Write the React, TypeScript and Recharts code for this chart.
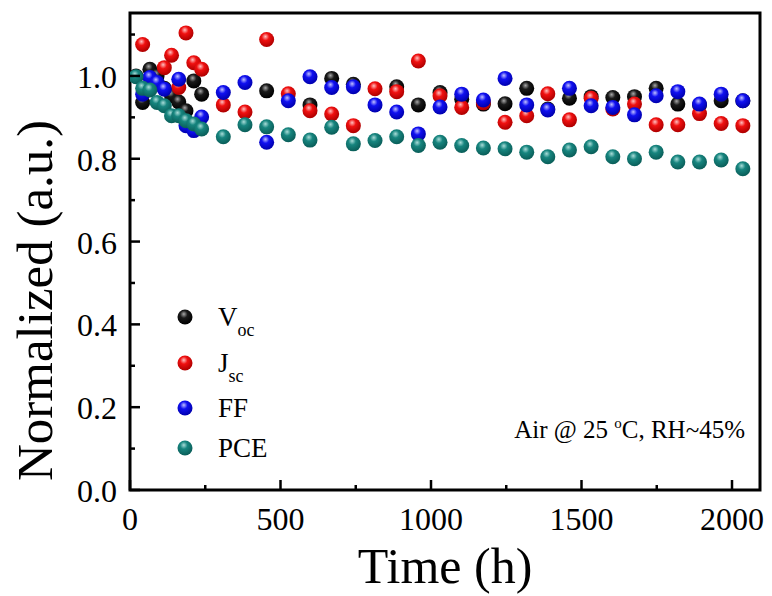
import React from 'react';
import { ScatterChart, Scatter, XAxis, YAxis, ReferenceArea, Legend, Label } from 'recharts';

// ---- data ----
const vocTimes = [20, 42, 66, 90, 114, 138, 162, 186, 212, 238, 454, 598, 670, 742, 886, 958, 1030, 1102, 1174, 1246, 1318, 1388, 1460, 1532, 1604, 1676, 1748, 1820, 1892, 1964, 2036];
const vocValues = [1.0, 0.936, 1.016, 1.0, 0.97, 0.952, 0.937, 0.916, 0.988, 0.956, 0.964, 0.93, 0.994, 0.98, 0.974, 0.93, 0.96, 0.944, 0.932, 0.933, 0.97, 0.92, 0.946, 0.95, 0.948, 0.95, 0.97, 0.932, 0.93, 0.94, 0.94];

const jscTimes = [42, 114, 138, 162, 186, 212, 238, 310, 382, 454, 526, 598, 670, 742, 814, 886, 958, 1030, 1102, 1174, 1246, 1318, 1388, 1460, 1532, 1604, 1676, 1748, 1820, 1892, 1964, 2036];
const jscValues = [1.076, 1.02, 1.05, 0.972, 1.104, 1.032, 1.016, 0.93, 0.913, 1.088, 0.957, 0.916, 0.908, 0.88, 0.969, 0.962, 1.036, 0.952, 0.924, 0.935, 0.888, 0.904, 0.957, 0.894, 0.946, 0.92, 0.932, 0.882, 0.882, 0.909, 0.885, 0.88];

const ffTimes = [42, 66, 90, 114, 162, 186, 212, 238, 310, 382, 454, 526, 598, 670, 742, 814, 886, 958, 1030, 1102, 1174, 1246, 1318, 1388, 1460, 1532, 1604, 1676, 1748, 1820, 1892, 1964, 2036];
const ffValues = [0.956, 0.996, 0.984, 0.968, 0.992, 0.88, 0.868, 0.901, 0.96, 0.984, 0.84, 0.94, 0.998, 0.972, 0.974, 0.93, 0.913, 0.86, 0.925, 0.956, 0.942, 0.994, 0.93, 0.918, 0.97, 0.928, 0.924, 0.906, 0.952, 0.962, 0.932, 0.956, 0.94];

const pceTimes = [20, 42, 66, 90, 114, 138, 162, 186, 212, 238, 310, 382, 454, 526, 598, 670, 742, 814, 886, 958, 1030, 1102, 1174, 1246, 1318, 1388, 1460, 1532, 1604, 1676, 1748, 1820, 1892, 1964, 2036];
const pceValues = [0.998, 0.97, 0.966, 0.936, 0.928, 0.904, 0.904, 0.892, 0.884, 0.872, 0.853, 0.882, 0.877, 0.858, 0.845, 0.876, 0.836, 0.844, 0.853, 0.832, 0.84, 0.832, 0.826, 0.824, 0.816, 0.805, 0.821, 0.829, 0.805, 0.8, 0.816, 0.792, 0.792, 0.797, 0.776];

const xTicks = [0, 250, 500, 750, 1000, 1250, 1500, 1750, 2000];
const xTickLabels = ['0', '', '500', '', '1000', '', '1500', '', '2000'];
const yTicks = [0, 0.1, 0.2, 0.3, 0.4, 0.5, 0.6, 0.7, 0.8, 0.9, 1.0, 1.1];
const yTickLabels = ['0.0', '', '0.2', '', '0.4', '', '0.6', '', '0.8', '', '1.0', ''];

const X_MAX = 2093;
const Y_MAX = 1.152;

const SERIF = '"Liberation Serif", "Times New Roman", serif';

const toPoints = (ts: number[], vs: number[]) => ts.map((t, i) => ({ t, v: vs[i] }));

const seriesDefs = [
  { key: 'voc', main: 'V', sub: 'oc', data: toPoints(vocTimes, vocValues), c0: '#a8a8a8', c1: '#1a1a1a', c2: '#000000' },
  { key: 'jsc', main: 'J', sub: 'sc', data: toPoints(jscTimes, jscValues), c0: '#ffc0c0', c1: '#f01010', c2: '#b00000' },
  { key: 'ff', main: 'FF', sub: '', data: toPoints(ffTimes, ffValues), c0: '#c0c0ff', c1: '#1010f0', c2: '#0000b0' },
  { key: 'pce', main: 'PCE', sub: '', data: toPoints(pceTimes, pceValues), c0: '#a8dcd8', c1: '#17857f', c2: '#0a5f5a' },
];

const Gradients = () => (
  <defs>
    {seriesDefs.map((s) => (
      <radialGradient key={s.key} id={`grad-${s.key}`} cx="0.42" cy="0.36" r="0.62" fx="0.42" fy="0.3">
        <stop offset="0%" stopColor={s.c0} />
        <stop offset="40%" stopColor={s.c1} />
        <stop offset="100%" stopColor={s.c2} />
      </radialGradient>
    ))}
  </defs>
);

const XTick = (p: any) => {
  const axisY = p.y;
  const i = xTicks.indexOf(p.payload.value);
  const lbl = i >= 0 ? xTickLabels[i] : '';
  const major = lbl !== '';
  return (
    <g>
      <line x1={p.x} x2={p.x} y1={axisY} y2={axisY - (major ? 10 : 5)} stroke="#000" strokeWidth={2.5} />
      {major && (
        <text x={p.x} y={axisY + 40} textAnchor="middle" fontFamily={SERIF} fontSize={32} fill="#000">
          {lbl}
        </text>
      )}
    </g>
  );
};

const YTick = (p: any) => {
  const axisX = p.x;
  const i = yTicks.indexOf(p.payload.value);
  const lbl = i >= 0 ? yTickLabels[i] : '';
  const major = lbl !== '';
  return (
    <g>
      <line x1={axisX} x2={axisX + (major ? 10 : 5)} y1={p.y} y2={p.y} stroke="#000" strokeWidth={2.5} />
      {major && (
        <text x={axisX - 13} y={p.y + 12} textAnchor="end" fontFamily={SERIF} fontSize={32} fill="#000">
          {lbl}
        </text>
      )}
    </g>
  );
};

const XTitle = (props: any) => {
  const vb = props.viewBox;
  return (
    <text x={vb.x + vb.width / 2} y={vb.y + 93} textAnchor="middle" fontFamily={SERIF} fontSize={50} fill="#000">
      Time (h)
    </text>
  );
};

const YTitle = (props: any) => {
  const vb = props.viewBox;
  const cx = vb.x + 52;
  const cy = vb.y + vb.height / 2 + 49;
  return (
    <text x={cx} y={cy} transform={`rotate(-90 ${cx} ${cy})`} textAnchor="middle" fontFamily={SERIF} fontSize={51} fill="#000">
      Normalized (a.u.)
    </text>
  );
};

const Annotation = (props: any) => {
  const vb = props.viewBox;
  return (
    <text x={vb.x + vb.width - 15} y={vb.y + vb.height - 52} textAnchor="end" fontFamily={SERIF} fontSize={25} fill="#000">
      Air @ 25 <tspan dy={-10} fontSize={15}>o</tspan>
      <tspan dy={10}>C, RH~45%</tspan>
    </text>
  );
};

const legendRowY = [22, 68, 113, 153];

const LegendContent = () => (
  <svg width={160} height={175} style={{ display: 'block', overflow: 'visible' }}>
    <Gradients />
    {seriesDefs.map((s, i) => (
      <g key={s.key}>
        <circle cx={15} cy={legendRowY[i]} r={7.5} fill={`url(#grad-${s.key})`} />
        <text x={48} y={legendRowY[i] + 9} fontFamily={SERIF} fontSize={27} fill="#000">
          {s.main}
          {s.sub && (
            <tspan dy={10} fontSize={18}>
              {s.sub}
            </tspan>
          )}
        </text>
      </g>
    ))}
  </svg>
);

const makeShape = (key: string) => (props: any) => (
  <circle cx={props.cx} cy={props.cy} r={7.5} fill={`url(#grad-${key})`} />
);

export default function App() {
  return (
    <div style={{ position: 'absolute', left: 0, top: 0, width: 772, height: 596, background: '#fff' }}>
      <ScatterChart width={772} height={596} margin={{ top: 13, right: 12, left: 0, bottom: 0 }}>
        <Gradients />
        <XAxis
          type="number"
          dataKey="t"
          domain={[0, X_MAX]}
          allowDataOverflow
          ticks={xTicks}
          interval={0}
          height={106}
          axisLine={false}
          tickLine={false}
          tickSize={0}
          tickMargin={0}
          tick={XTick}
        >
          <Label content={XTitle} />
        </XAxis>
        <YAxis
          type="number"
          dataKey="v"
          domain={[0, Y_MAX]}
          allowDataOverflow
          ticks={yTicks}
          interval={0}
          width={130}
          axisLine={false}
          tickLine={false}
          tickSize={0}
          tickMargin={0}
          tick={YTick}
        >
          <Label content={YTitle} />
        </YAxis>
        <Legend
          layout="vertical"
          align="center"
          verticalAlign="middle"
          content={LegendContent}
          wrapperStyle={{ left: 170, top: 295, width: 160, height: 175 }}
        />
        {seriesDefs.map((s) => (
          <Scatter
            key={s.key}
            name={s.main + s.sub}
            data={s.data}
            fill={s.c1}
            shape={makeShape(s.key)}
            isAnimationActive={false}
          />
        ))}
        <ReferenceArea
          x1={0}
          x2={X_MAX}
          y1={0}
          y2={Y_MAX}
          fill="none"
          fillOpacity={0}
          stroke="#000"
          strokeWidth={3}
          ifOverflow="visible"
          label={<Label content={Annotation} />}
        />
      </ScatterChart>
    </div>
  );
}
